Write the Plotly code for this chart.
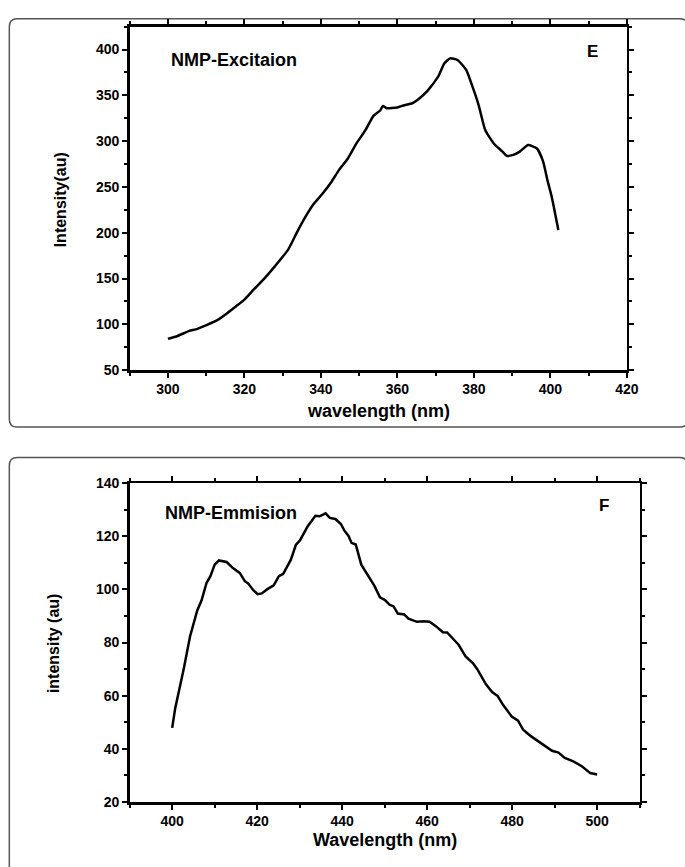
import plotly.graph_objects as go

# --- Data: excitation spectrum (panel E) ---
exc_wavelength = [300, 302.2, 305.6, 307.3, 310.1, 312.9, 315.7, 317.9, 320, 322.4, 325.2, 328,
                  331.4, 333.6, 335.9, 338.1, 340.3, 342.6, 344.8, 347.1, 349.3, 351.6, 353.8,
                  355.5, 356.2, 357.2, 360, 361.6, 363.9, 365.5, 367.8, 370.7, 372.3, 373.8,
                  375.7, 378, 379.6, 381.3, 383, 385.2, 387.5, 388.6, 390.3, 392, 394.2, 396.5,
                  398.1, 399.3, 400.4, 402.1]
exc_intensity = [84.3, 86.8, 92.9, 94.6, 99.3, 104.6, 112.9, 120, 127, 137.9, 150, 163.6,
                 181.4, 199.3, 217, 231.4, 242, 254.6, 268.9, 281.4, 297.5, 311.8, 327.9,
                 333.5, 338.5, 336, 336.8, 339, 341.4, 345.7, 354.6, 370.7, 385, 390.4,
                 388.6, 377.9, 360, 338.6, 311.8, 297.5, 288.6, 284, 285, 288.6, 295.7, 292,
                 278, 256.4, 238.6, 202.9]

# --- Data: emission spectrum (panel F) ---
emi_wavelength = [400, 400.7, 402.7, 404.2, 405.9, 406.9, 408.1, 409, 410, 411, 412.8, 414.3,
                  415.9, 417.1, 417.9, 419.1, 420.1, 421.1, 422.4, 423.9, 425.1, 426.1, 427.9,
                  429.1, 430.1, 431.9, 433.7, 434.7, 436.1, 437.1, 438.4, 439.7, 440.5, 441.5,
                  442.2, 443.2, 444.5, 446, 447.6, 448.9, 450.1, 451.1, 452.1, 453.1, 454.6,
                  455.6, 457.6, 459.2, 460.6, 462.2, 463.7, 464.7, 466, 467.4, 469, 470.8,
                  471.8, 472.8, 473.8, 475.3, 476.6, 477.9, 479.9, 481.4, 482.6, 484.4, 486.4,
                  487.9, 489.4, 490.9, 492.4, 494.4, 496.4, 498.4, 500]
emi_intensity = [47.9, 55.2, 70, 82.3, 92.1, 95.8, 102.5, 105, 109.3, 110.9, 110.3, 108,
                 106.2, 103.1, 102.2, 99.7, 98.2, 98.5, 100.1, 101.5, 105, 105.8, 111.1,
                 116.7, 118.5, 123.8, 127.7, 127.5, 128.6, 126.9, 126.5, 124.6, 122.2, 120.1,
                 117.5, 116.9, 109.3, 105.6, 101.3, 97, 96, 94.3, 93.6, 90.9, 90.6,
                 89, 87.8, 88, 87.8, 86, 83.9, 83.8, 81.6, 79.2, 74.9, 72.2,
                 70, 66.9, 64.4, 61.4, 59.9, 56.5, 52.2, 50.6, 47.2, 44.8, 42.7,
                 41.1, 39.3, 38.6, 36.6, 35.3, 33.5, 30.9, 30.4]

W, H = 685, 867
FONT = "Liberation Sans, Arial, sans-serif"

def px(x):
    return x / W

def py(y):
    return 1 - y / H

fig = go.Figure()
fig.add_trace(go.Scatter(x=exc_wavelength, y=exc_intensity, mode="lines",
                         line=dict(color="black", width=2.5, shape="spline", smoothing=0.5),
                         xaxis="x", yaxis="y", showlegend=False, hoverinfo="skip"))
fig.add_trace(go.Scatter(x=emi_wavelength, y=emi_intensity, mode="lines",
                         line=dict(color="black", width=2.5),
                         xaxis="x2", yaxis="y2", showlegend=False, hoverinfo="skip"))

tickfont = dict(family=FONT, size=14, color="black", weight="bold")

def axis_common():
    return dict(showline=True, linecolor="black", linewidth=2.5, mirror="ticks",
                ticks="outside", ticklen=5, tickwidth=2, tickcolor="black",
                showgrid=False, zeroline=False, tickfont=tickfont)

def minor(d):
    return dict(ticks="outside", ticklen=3, tickwidth=2, dtick=d, tickcolor="black")

xa = axis_common()
xa.update(domain=[px(132), px(638)], range=[290, 420], dtick=20, tick0=300, anchor="y",
          minor=minor(10))
ya = axis_common()
ya.update(domain=[py(369), py(19)], range=[50, 425], dtick=50, tick0=50, anchor="x",
          minor=minor(25))
xa2 = axis_common()
xa2.update(domain=[px(132), px(651)], range=[390, 510], dtick=20, tick0=400, anchor="y2",
           minor=minor(10))
ya2 = axis_common()
ya2.update(domain=[py(809), py(484)], range=[20, 140], dtick=20, tick0=20, anchor="x2",
           minor=minor(10))

def rounded_box(x0, y0, x1, y1, r=8):
    rx, ry = r / W, r / H
    X0, X1 = px(x0), px(x1)
    Y0, Y1 = py(y0), py(y1)  # Y0 top, Y1 bottom
    return (f"M {X0+rx},{Y0} L {X1-rx},{Y0} Q {X1},{Y0} {X1},{Y0-ry} "
            f"L {X1},{Y1+ry} Q {X1},{Y1} {X1-rx},{Y1} L {X0+rx},{Y1} "
            f"Q {X0},{Y1} {X0},{Y1+ry} L {X0},{Y0-ry} Q {X0},{Y0} {X0+rx},{Y0} Z")

shapes = [
    dict(type="path", xref="paper", yref="paper", path=rounded_box(9.5, 11, 700, 427),
         line=dict(color="#555555", width=1.5), layer="below"),
    dict(type="path", xref="paper", yref="paper", path=rounded_box(9.5, 458, 700, 900),
         line=dict(color="#555555", width=1.5), layer="below"),
]

def ann(text, x, y, size=13, angle=0, xanchor="center"):
    return dict(text=text, x=px(x), y=py(y), xref="paper", yref="paper", showarrow=False,
                textangle=angle, xanchor=xanchor, yanchor="middle",
                font=dict(family=FONT, size=size, color="black", weight="bold"))

annotations = [
    ann("NMP-Excitaion", 172, 53, size=18, xanchor="left"),
    ann("E", 603, 44, size=17),
    ann("wavelength (nm)", 385, 411, size=18),
    ann("Intensity(au)", 61, 195, size=16, angle=-90),
    ann("NMP-Emmision", 166, 514, size=18, xanchor="left"),
    ann("F", 615, 507, size=17),
    ann("Wavelength (nm)", 392, 848, size=18),
    ann("intensity (au)", 54, 647, size=16, angle=-90),
]

fig.update_layout(width=W, height=H, margin=dict(l=0, r=0, t=0, b=0),
                  paper_bgcolor="white", plot_bgcolor="white",
                  xaxis=xa, yaxis=ya, xaxis2=xa2, yaxis2=ya2,
                  shapes=shapes, annotations=annotations, hovermode=False)

fig.write_html("out.html", config={"displayModeBar": False, "staticPlot": True},
               post_script="document.body.style.margin='0';document.body.style.overflow='hidden';")
